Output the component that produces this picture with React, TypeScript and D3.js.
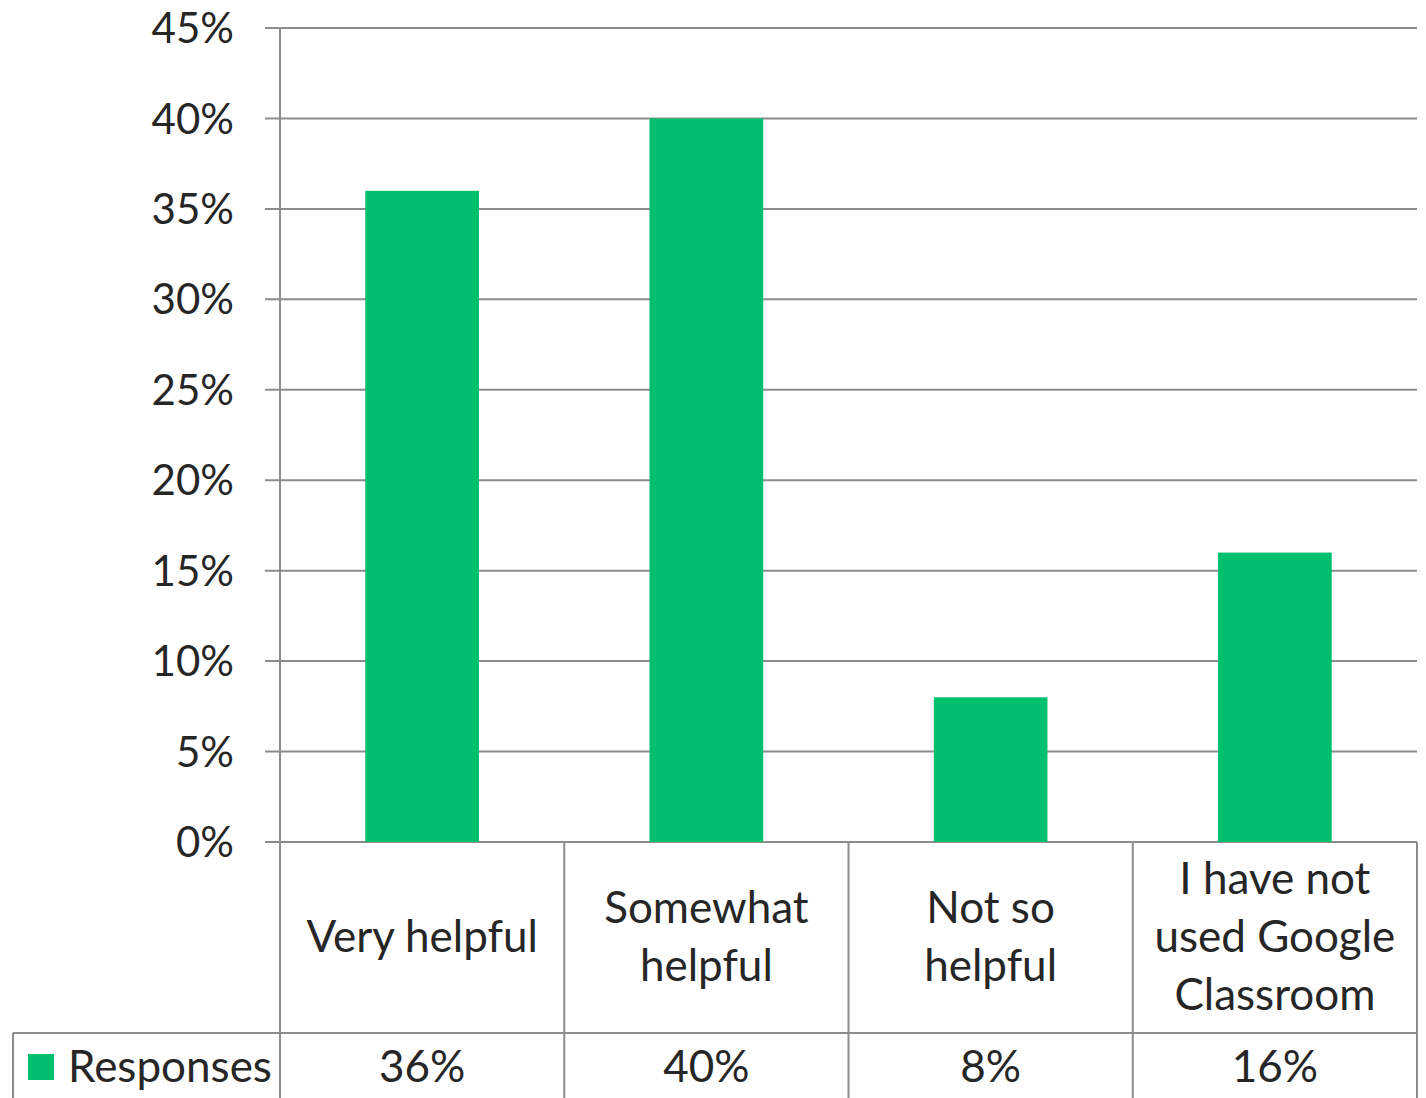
import * as d3 from 'd3'

const categories: string[][] = [
  ['Very helpful'],
  ['Somewhat', 'helpful'],
  ['Not so', 'helpful'],
  ['I have not', 'used Google', 'Classroom'],
]
const responses = [0.36, 0.4, 0.08, 0.16]
const yTicks = [0, 0.05, 0.1, 0.15, 0.2, 0.25, 0.3, 0.35, 0.4, 0.45]
const seriesName = 'Responses'

const W = 1426
const H = 1098
const plot = { left: 280, right: 1417, top: 28, bottom: 842 }
const tableRow = 1033
const tableLeft = 13
const green = '#00BF6F'
const gridColor = '#8c8c8c'
const textColor = '#262626'
const font = 'Lato, "Open Sans", sans-serif'

export default function App() {
  const x = d3
    .scaleBand<number>()
    .domain(d3.range(responses.length))
    .range([plot.left, plot.right])
    .paddingInner(0)
    .paddingOuter(0)

  const barWidth = x.bandwidth() * 0.4

  const y = d3.scaleLinear().domain([0, 0.45]).range([plot.bottom, plot.top])
  const pct = d3.format('.0%')

  const columnEdges = [...d3.range(responses.length).map(i => x(i)!), plot.right]
  const labelCenter = (plot.bottom + tableRow) / 2
  const lineHeight = 58

  return (
    <svg
      width={W}
      height={H}
      style={{ position: 'absolute', left: 0, top: 0, background: '#fff' }}
      fontFamily={font}
    >
      {/* gridlines + tick marks */}
      {yTicks.map(t => (
        <line
          key={t}
          x1={plot.left - 15}
          x2={plot.right}
          y1={y(t)}
          y2={y(t)}
          stroke={gridColor}
          strokeWidth={2}
        />
      ))}
      {yTicks.map(t => (
        <text
          key={'l' + t}
          x={234}
          y={y(t)}
          dy="0.36em"
          textAnchor="end"
          fontSize={42}
          fill={textColor}
        >
          {pct(t)}
        </text>
      ))}

      {/* bars */}
      {responses.map((v, i) => (
        <rect
          key={i}
          x={x(i)! + (x.bandwidth() - barWidth) / 2}
          y={y(v)}
          width={barWidth}
          height={y(0) - y(v)}
          fill={green}
        />
      ))}

      {/* vertical axis */}
      <line x1={plot.left} x2={plot.left} y1={plot.top} y2={H} stroke={gridColor} strokeWidth={2} />

      {/* data table lines */}
      {columnEdges.slice(1).map((cx, i) => (
        <line key={'v' + i} x1={cx} x2={cx} y1={plot.bottom} y2={H} stroke={gridColor} strokeWidth={2} />
      ))}
      <line x1={tableLeft} x2={plot.right} y1={tableRow} y2={tableRow} stroke={gridColor} strokeWidth={2} />
      <line x1={tableLeft} x2={tableLeft} y1={tableRow} y2={H} stroke={gridColor} strokeWidth={2} />

      {/* category labels */}
      {categories.map((lines, i) => {
        const cx = x(i)! + x.bandwidth() / 2
        const startY = labelCenter - ((lines.length - 1) * lineHeight) / 2
        return (
          <text key={'c' + i} textAnchor="middle" fontSize={44} fill={textColor}>
            {lines.map((ln, j) => (
              <tspan key={j} x={cx} y={startY + j * lineHeight} dy="0.34em">
                {ln}
              </tspan>
            ))}
          </text>
        )
      })}

      {/* legend key + values row */}
      <rect x={28} y={1054} width={26} height={26} fill={green} />
      <text x={68} y={1067} dy="0.34em" fontSize={44} fill={textColor}>
        {seriesName}
      </text>
      {responses.map((v, i) => (
        <text
          key={'d' + i}
          x={x(i)! + x.bandwidth() / 2}
          y={1067}
          dy="0.34em"
          textAnchor="middle"
          fontSize={44}
          fill={textColor}
        >
          {pct(v)}
        </text>
      ))}
    </svg>
  )
}
